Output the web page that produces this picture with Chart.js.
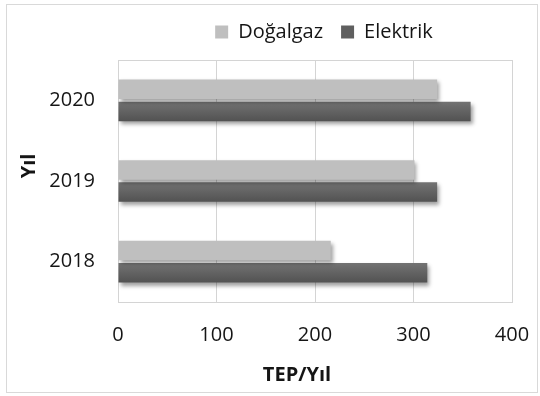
<!DOCTYPE html>
<html>
<head>
<meta charset="utf-8">
<script src="https://cdn.jsdelivr.net/npm/chart.js@4/dist/chart.umd.min.js"></script>
<style>
  html, body { margin: 0; padding: 0; background: #fff; }
  #c { display: block; }
</style>
</head>
<body>
<canvas id="c" width="540" height="396"></canvas>
<script>
// Yıllara göre enerji tüketimi (TEP/Yıl)
const years = ['2020', '2019', '2018'];
const seriesNames = ['Doğalgaz', 'Elektrik'];
const dogalgaz = [324, 301, 216];
const elektrik = [358, 324, 314];
const xTickValues = [0, 100, 200, 300, 400];
const xTitle = 'TEP/Yıl';
const yTitle = 'Yıl';

const FONT = "'Open Sans', 'Noto Sans', sans-serif";
const TEXT = '#151515';
const GRID = '#d4d4d4';

// outer frame + plot-area frame
const framePlugin = {
  id: 'frame',
  beforeDraw(chart) {
    const ctx = chart.ctx;
    ctx.save();
    ctx.fillStyle = '#ffffff';
    ctx.fillRect(0, 0, chart.width, chart.height);
    ctx.strokeStyle = '#d9d9d9';
    ctx.lineWidth = 1;
    ctx.strokeRect(6.5, 4.5, 531, 388);
    ctx.restore();
  },
  beforeDatasetsDraw(chart) {
    const a = chart.chartArea, ctx = chart.ctx;
    ctx.save();
    ctx.strokeStyle = GRID;
    ctx.lineWidth = 1;
    ctx.strokeRect(Math.round(a.left) + 0.5, Math.round(a.top) + 0.5,
                   Math.round(a.right - a.left), Math.round(a.bottom - a.top));
    ctx.restore();
  }
};

// soft drop shadow under the bars
const shadowPlugin = {
  id: 'barShadow',
  beforeDatasetsDraw(chart) {
    const ctx = chart.ctx;
    ctx.save();
    ctx.shadowColor = 'rgba(0,0,0,0.38)';
    ctx.shadowBlur = 4;
    ctx.shadowOffsetX = 2;
    ctx.shadowOffsetY = 3;
  },
  afterDatasetsDraw(chart) {
    chart.ctx.restore();
  }
};

// vertical gradient on the dark series
const gradientPlugin = {
  id: 'barGradient',
  afterDatasetsUpdate(chart) {
    const ctx = chart.ctx;
    const meta = chart.getDatasetMeta(1);
    meta.data.forEach(el => {
      const top = el.y - el.height / 2, bottom = el.y + el.height / 2;
      const g = ctx.createLinearGradient(0, top, 0, bottom);
      g.addColorStop(0, '#737373');
      g.addColorStop(1, '#525252');
      el.options = Object.assign({}, el.options, { backgroundColor: g });
    });
  }
};

// axis titles
const titlePlugin = {
  id: 'axisTitles',
  afterDraw(chart) {
    const ctx = chart.ctx;
    ctx.save();
    ctx.fillStyle = TEXT;
    ctx.font = `bold 20px ${FONT}`;
    ctx.textAlign = 'center';
    ctx.textBaseline = 'middle';
    ctx.fillText(xTitle, 297, 375);
    ctx.translate(29, 166);
    ctx.rotate(-Math.PI / 2);
    ctx.fillText(yTitle, 0, 0);
    ctx.restore();
  }
};

// place the legend above the plot area
const legendShift = {
  id: 'legendShift',
  afterLayout(chart) {
    const lg = chart.legend;
    const dx = 68, dy = -8;
    lg.left += dx; lg.right += dx;
    lg.top += dy; lg.bottom += dy;
  }
};

new Chart(document.getElementById('c'), {
  type: 'bar',
  data: {
    labels: years,
    datasets: [
      { label: seriesNames[0], data: dogalgaz, backgroundColor: '#bfbfbf', borderWidth: 0 },
      { label: seriesNames[1], data: elektrik, backgroundColor: '#5f5f5f', borderWidth: 0 }
    ]
  },
  options: {
    indexAxis: 'y',
    responsive: false,
    devicePixelRatio: 1,
    animation: false,
    barPercentage: 0.88,
    categoryPercentage: 0.55,
    layout: { padding: { top: 12, right: 28, bottom: 0, left: 0 } },
    plugins: {
      legend: {
        position: 'top',
        align: 'center',
        labels: {
          font: { family: FONT, size: 20 },
          color: TEXT,
          boxWidth: 13,
          boxHeight: 13,
          padding: 18
        }
      },
      tooltip: { enabled: false }
    },
    scales: {
      x: {
        min: 0, max: 400,
        afterBuildTicks: s => { s.ticks = xTickValues.map(v => ({ value: v })); },
        afterFit: s => { s.height = 94; s.paddingLeft = 0; s.paddingRight = 0; },
        ticks: { font: { family: FONT, size: 20 }, color: TEXT, padding: 21 },
        grid: { color: GRID, drawTicks: false },
        border: { display: true, color: GRID }
      },
      y: {
        afterFit: s => { s.width = 118; },
        ticks: { font: { family: FONT, size: 20 }, color: TEXT, padding: 23 },
        grid: { display: false, drawTicks: false },
        border: { display: true, color: GRID }
      }
    }
  },
  plugins: [framePlugin, shadowPlugin, gradientPlugin, titlePlugin, legendShift]
});
</script>
</body>
</html>
